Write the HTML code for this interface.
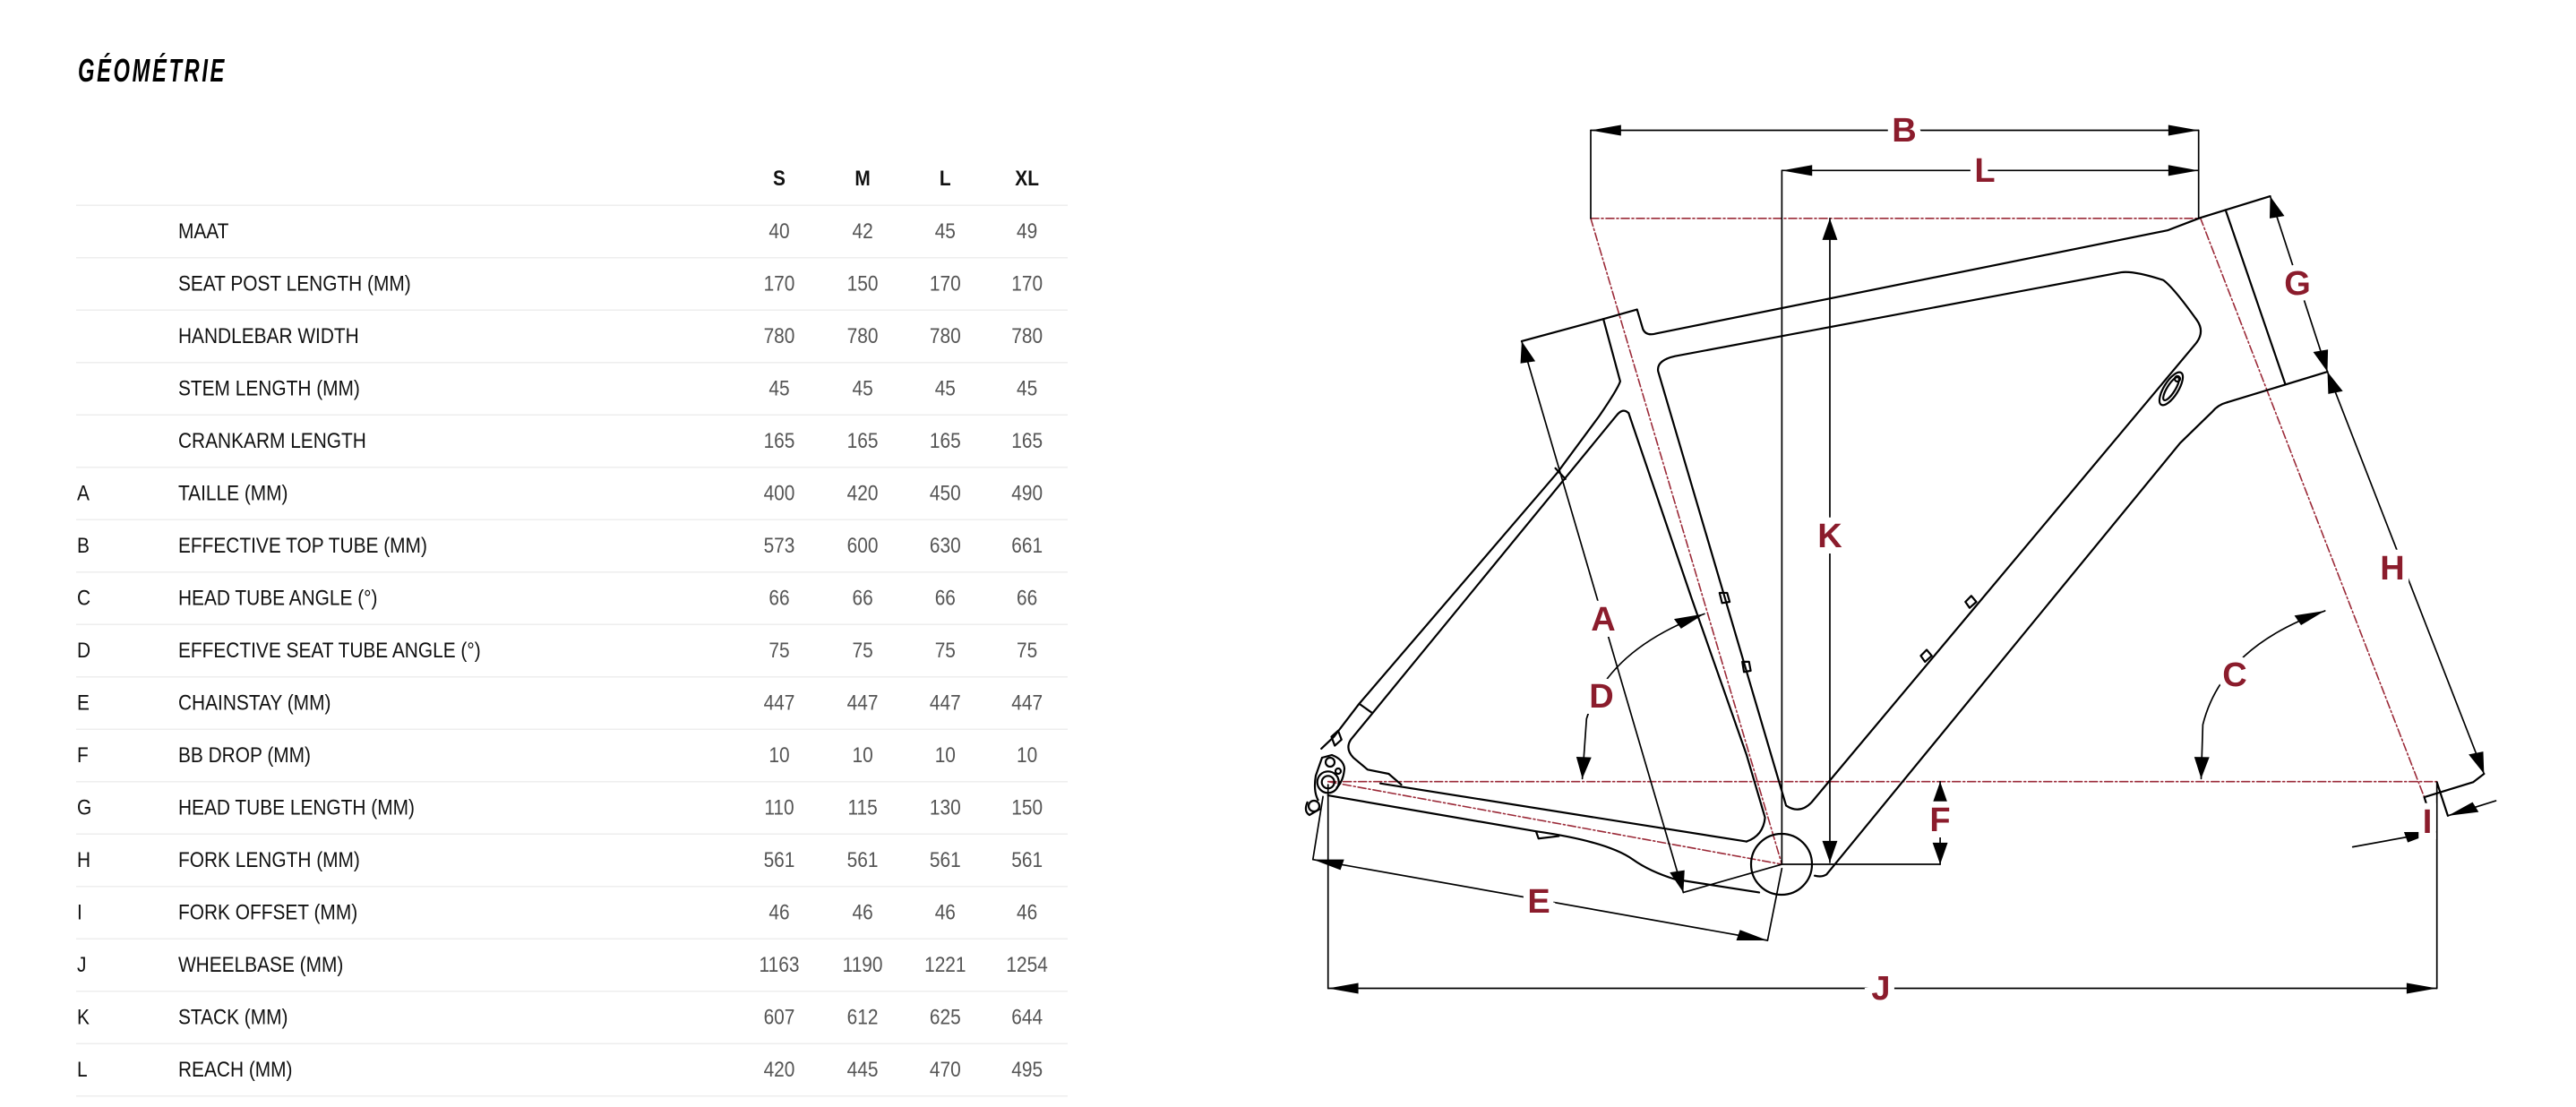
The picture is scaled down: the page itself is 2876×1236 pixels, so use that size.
<!DOCTYPE html>
<html><head><meta charset="utf-8"><style>
html,body{margin:0;padding:0;background:#fff}
svg{display:block}
.t{font-family:"Liberation Sans",sans-serif}
</style></head><body>
<svg width="2876" height="1236" viewBox="0 0 2876 1236" xmlns="http://www.w3.org/2000/svg">
<defs>
<marker id="ar" markerUnits="userSpaceOnUse" viewBox="-40 -12 42 24" refX="0" refY="0" markerWidth="42" markerHeight="24" orient="auto-start-reverse">
<path d="M0,0 L-36,-9 L-36,9 Z" fill="#000"/>
</marker>
</defs>
<text class="t" x="87" y="91" font-size="36" font-weight="bold" font-style="italic" textLength="166" lengthAdjust="spacingAndGlyphs" letter-spacing="4">GÉOMÉTRIE</text>

<g stroke="#eee" stroke-width="1.5">
<line x1="85" y1="229.3" x2="1192" y2="229.3"/><line x1="85" y1="287.8" x2="1192" y2="287.8"/><line x1="85" y1="346.3" x2="1192" y2="346.3"/><line x1="85" y1="404.8" x2="1192" y2="404.8"/><line x1="85" y1="463.3" x2="1192" y2="463.3"/><line x1="85" y1="521.8" x2="1192" y2="521.8"/><line x1="85" y1="580.3" x2="1192" y2="580.3"/><line x1="85" y1="638.8" x2="1192" y2="638.8"/><line x1="85" y1="697.3" x2="1192" y2="697.3"/><line x1="85" y1="755.8" x2="1192" y2="755.8"/><line x1="85" y1="814.3" x2="1192" y2="814.3"/><line x1="85" y1="872.8" x2="1192" y2="872.8"/><line x1="85" y1="931.3" x2="1192" y2="931.3"/><line x1="85" y1="989.8" x2="1192" y2="989.8"/><line x1="85" y1="1048.3" x2="1192" y2="1048.3"/><line x1="85" y1="1106.8" x2="1192" y2="1106.8"/><line x1="85" y1="1165.3" x2="1192" y2="1165.3"/><line x1="85" y1="1223.8" x2="1192" y2="1223.8"/>
</g>

<g transform="scale(0.87 1)" class="t" font-size="24">
<g font-weight="bold" text-anchor="middle" fill="#111">
<text x="1000" y="207">S</text><text x="1107" y="207">M</text><text x="1213" y="207">L</text><text x="1318" y="207">XL</text>
</g>
<g fill="#111">
<text x="228.7" y="266">MAAT</text>
<text x="228.7" y="324.5">SEAT POST LENGTH (MM)</text>
<text x="228.7" y="383">HANDLEBAR WIDTH</text>
<text x="228.7" y="441.5">STEM LENGTH (MM)</text>
<text x="228.7" y="500">CRANKARM LENGTH</text>
<text x="98.9" y="558.5">A</text><text x="228.7" y="558.5">TAILLE (MM)</text>
<text x="98.9" y="617">B</text><text x="228.7" y="617">EFFECTIVE TOP TUBE (MM)</text>
<text x="98.9" y="675.5">C</text><text x="228.7" y="675.5">HEAD TUBE ANGLE (°)</text>
<text x="98.9" y="734">D</text><text x="228.7" y="734">EFFECTIVE SEAT TUBE ANGLE (°)</text>
<text x="98.9" y="792.5">E</text><text x="228.7" y="792.5">CHAINSTAY (MM)</text>
<text x="98.9" y="851">F</text><text x="228.7" y="851">BB DROP (MM)</text>
<text x="98.9" y="909.5">G</text><text x="228.7" y="909.5">HEAD TUBE LENGTH (MM)</text>
<text x="98.9" y="968">H</text><text x="228.7" y="968">FORK LENGTH (MM)</text>
<text x="98.9" y="1026.5">I</text><text x="228.7" y="1026.5">FORK OFFSET (MM)</text>
<text x="98.9" y="1085">J</text><text x="228.7" y="1085">WHEELBASE (MM)</text>
<text x="98.9" y="1143.5">K</text><text x="228.7" y="1143.5">STACK (MM)</text>
<text x="98.9" y="1202">L</text><text x="228.7" y="1202">REACH (MM)</text>
</g>
<g fill="#555" text-anchor="middle" font-size="24">
<text x="1000" y="266">40</text><text x="1107" y="266">42</text><text x="1213" y="266">45</text><text x="1318" y="266">49</text>
<text x="1000" y="324.5">170</text><text x="1107" y="324.5">150</text><text x="1213" y="324.5">170</text><text x="1318" y="324.5">170</text>
<text x="1000" y="383">780</text><text x="1107" y="383">780</text><text x="1213" y="383">780</text><text x="1318" y="383">780</text>
<text x="1000" y="441.5">45</text><text x="1107" y="441.5">45</text><text x="1213" y="441.5">45</text><text x="1318" y="441.5">45</text>
<text x="1000" y="500">165</text><text x="1107" y="500">165</text><text x="1213" y="500">165</text><text x="1318" y="500">165</text>
<text x="1000" y="558.5">400</text><text x="1107" y="558.5">420</text><text x="1213" y="558.5">450</text><text x="1318" y="558.5">490</text>
<text x="1000" y="617">573</text><text x="1107" y="617">600</text><text x="1213" y="617">630</text><text x="1318" y="617">661</text>
<text x="1000" y="675.5">66</text><text x="1107" y="675.5">66</text><text x="1213" y="675.5">66</text><text x="1318" y="675.5">66</text>
<text x="1000" y="734">75</text><text x="1107" y="734">75</text><text x="1213" y="734">75</text><text x="1318" y="734">75</text>
<text x="1000" y="792.5">447</text><text x="1107" y="792.5">447</text><text x="1213" y="792.5">447</text><text x="1318" y="792.5">447</text>
<text x="1000" y="851">10</text><text x="1107" y="851">10</text><text x="1213" y="851">10</text><text x="1318" y="851">10</text>
<text x="1000" y="909.5">110</text><text x="1107" y="909.5">115</text><text x="1213" y="909.5">130</text><text x="1318" y="909.5">150</text>
<text x="1000" y="968">561</text><text x="1107" y="968">561</text><text x="1213" y="968">561</text><text x="1318" y="968">561</text>
<text x="1000" y="1026.5">46</text><text x="1107" y="1026.5">46</text><text x="1213" y="1026.5">46</text><text x="1318" y="1026.5">46</text>
<text x="1000" y="1085">1163</text><text x="1107" y="1085">1190</text><text x="1213" y="1085">1221</text><text x="1318" y="1085">1254</text>
<text x="1000" y="1143.5">607</text><text x="1107" y="1143.5">612</text><text x="1213" y="1143.5">625</text><text x="1318" y="1143.5">644</text>
<text x="1000" y="1202">420</text><text x="1107" y="1202">445</text><text x="1213" y="1202">470</text><text x="1318" y="1202">495</text>
</g>
</g>

<g transform="translate(1400 100) scale(0.94 0.669)" fill="none" stroke-linejoin="round" stroke-linecap="round">
<g stroke="#9b2a38" stroke-width="1.6" stroke-dasharray="9 3 2 3">
<path vector-effect="non-scaling-stroke" d="M400,215 L1122,215"/>
<path vector-effect="non-scaling-stroke" d="M88,1155 L1405,1155"/>
<path vector-effect="non-scaling-stroke" d="M400,215 L627,1293"/>
<path vector-effect="non-scaling-stroke" d="M1124,214 L1390,1181"/>
<path vector-effect="non-scaling-stroke" d="M88,1155 L627,1293"/>
</g>
<g stroke="#000" stroke-width="2.2">
<path vector-effect="non-scaling-stroke" d="M318,420 L415,383 L455,367 L462,400 Q466,412 478,407 L1085,235 L1124,214 L1154,201 L1207,178"/>
<path vector-effect="non-scaling-stroke" d="M1154,201 L1225,492"/>
<path vector-effect="non-scaling-stroke" d="M1156,522 L1275,471"/>
<path vector-effect="non-scaling-stroke" d="M1156,522 Q1145,526 1138,538 L1100,590 L680,1310 Q674,1315 666,1312"/>
<path vector-effect="non-scaling-stroke" d="M500,445 L1030,305 Q1045,302 1080,318 Q1092,330 1120,385 Q1130,405 1118,425 L662,1190 Q648,1210 632,1195 L480,470 Q478,452 500,445 Z"/>
<path vector-effect="non-scaling-stroke" d="M445,540 L520,850 L585,1110 L607,1215 Q605,1245 585,1255"/>
<path vector-effect="non-scaling-stroke" d="M415,383 L435,487 Q432,500 410,545 L360,640 L125,1025 L95,1080 L80,1100"/>
<path vector-effect="non-scaling-stroke" d="M445,540 Q438,530 430,545 L115,1085 Q108,1100 118,1115 L135,1135 L160,1142 L175,1160"/>
<path vector-effect="non-scaling-stroke" d="M150,1158 L585,1255"/>
<path vector-effect="non-scaling-stroke" d="M88,1178 L335,1238 Q420,1255 450,1285 Q470,1305 500,1318 L600,1340"/>
<path vector-effect="non-scaling-stroke" d="M335,1238 L338,1250 L362,1246"/>
<path vector-effect="non-scaling-stroke" d="M125,1025 L140,1040"/>
<path vector-effect="non-scaling-stroke" d="M358,632 L370,650"/>
<path vector-effect="non-scaling-stroke" d="M553,840 L562,840 L565,855 L556,857 Z M580,955 L588,955 L590,970 L582,972 Z M845,855 L852,845 L858,855 L850,865 Z M792,945 L799,935 L805,945 L797,955 Z M92,1080 L100,1070 L104,1085 L96,1095 Z"/>
<path vector-effect="non-scaling-stroke" d="M1461,1142 L1448,1156 L1390,1181 L1403,1239"/>
<path vector-effect="non-scaling-stroke" d="M1405,1156 L1418,1212"/>
</g>
<g stroke="#000" stroke-width="1.7">
<path vector-effect="non-scaling-stroke" marker-start="url(#ar)" marker-end="url(#ar)" d="M400,68 L1122,68"/>
<path vector-effect="non-scaling-stroke" d="M400,68 L400,215 M1122,68 L1122,215 M627,135 L627,1293 M627,1293 L815,1293 M88,1160 L88,1500 M1405,1156 L1405,1500 M82,1180 L70,1285 M627,1300 L610,1420 M510,1340 L627,1293"/>
<path vector-effect="non-scaling-stroke" marker-start="url(#ar)" marker-end="url(#ar)" d="M627,135 L1122,135"/>
<path vector-effect="non-scaling-stroke" marker-start="url(#ar)" marker-end="url(#ar)" d="M684,215 L684,1290"/>
<path vector-effect="non-scaling-stroke" marker-start="url(#ar)" marker-end="url(#ar)" d="M815,1155 L815,1293"/>
<path vector-effect="non-scaling-stroke" marker-start="url(#ar)" marker-end="url(#ar)" d="M1207,178 L1275,471"/>
<path vector-effect="non-scaling-stroke" marker-start="url(#ar)" marker-end="url(#ar)" d="M1275,471 L1461,1142"/>
<path vector-effect="non-scaling-stroke" marker-end="url(#ar)" d="M1305,1264 L1403,1239"/>
<path vector-effect="non-scaling-stroke" marker-end="url(#ar)" d="M1475,1187 L1418,1212"/>
<path vector-effect="non-scaling-stroke" marker-start="url(#ar)" marker-end="url(#ar)" d="M88,1500 L1405,1500"/>
<path vector-effect="non-scaling-stroke" marker-start="url(#ar)" marker-end="url(#ar)" d="M70,1285 L610,1420"/>
<path vector-effect="non-scaling-stroke" marker-start="url(#ar)" marker-end="url(#ar)" d="M318,420 L510,1340"/>
<path vector-effect="non-scaling-stroke" marker-start="url(#ar)" marker-end="url(#ar)" d="M535,875 Q420,935 395,1050 L390,1150"/>
<path vector-effect="non-scaling-stroke" marker-start="url(#ar)" marker-end="url(#ar)" d="M1272,870 Q1150,930 1127,1060 L1125,1150"/>
</g>
</g>

<g fill="none" stroke="#000" stroke-width="2.2">
<circle cx="1989" cy="965" r="34"/>
<ellipse cx="2424" cy="434" rx="21" ry="8" transform="rotate(-58 2424 434)"/>
<ellipse cx="2424" cy="434" rx="15" ry="4.5" transform="rotate(-58 2424 434)"/>
<circle cx="2431" cy="423" r="3"/>
<circle cx="1482.7" cy="873.3" r="7"/>
<circle cx="1482.7" cy="873.3" r="12"/>
<circle cx="1485" cy="851" r="5"/>
<circle cx="1494" cy="861" r="3"/>
<circle cx="1467" cy="900" r="6"/>
<path d="M1472,894 Q1466,884 1469,866 L1476,846 L1487,843 Q1500,848 1501,858 Q1500,872 1492,880 M1474,903 L1462,910 Q1455,906 1460,895"/>
</g>

<g class="t" font-size="38" font-weight="bold" fill="#8b1c2c" text-anchor="middle" dominant-baseline="central" stroke="#fff" stroke-width="14" paint-order="stroke">
<text x="2126" y="146">B</text>
<text x="2216" y="191">L</text>
<text x="2043" y="599">K</text>
<text x="1790" y="692">A</text>
<text x="1788" y="778">D</text>
<text x="1718" y="1007">E</text>
<text x="2100" y="1104">J</text>
<text x="2166" y="916">F</text>
<text x="2495" y="754">C</text>
<text x="2671" y="635">H</text>
<text x="2565" y="317">G</text>
<text x="2710" y="918">I</text>
</g>
</svg>
</body></html>
